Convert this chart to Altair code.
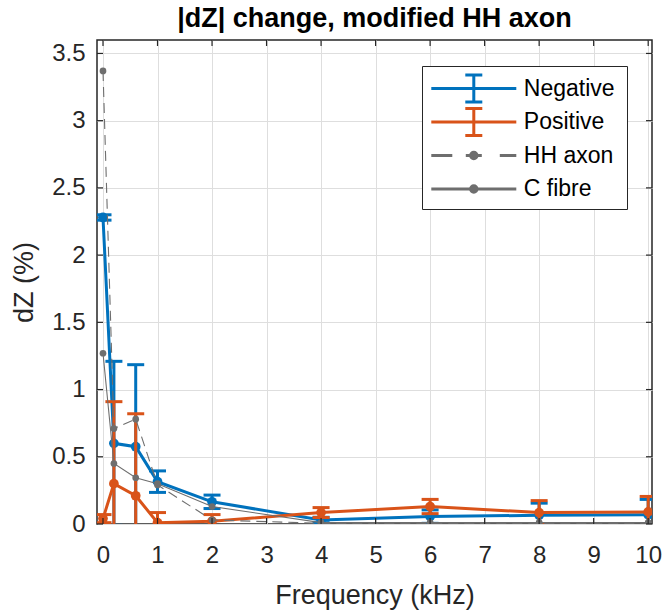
import altair as alt
import pandas as pd

# ---- data ----
freq = [0, 0.2, 0.6, 1, 2, 4, 6, 8, 10]
neg = [2.28, 0.60, 0.575, 0.315, 0.165, 0.03, 0.055, 0.065, 0.068]
neg_err = [0.02, 0.61, 0.61, 0.08, 0.05, 0.02, 0.05, 0.09, 0.115]
pos = [0.04, 0.30, 0.21, 0.01, 0.02, 0.085, 0.13, 0.085, 0.09]
pos_err = [0.03, 0.61, 0.61, 0.075, 0.05, 0.037, 0.053, 0.089, 0.115]
hh_axon = [3.37, 0.71, 0.78, 0.29, 0.03, 0.005, 0.005, 0.005, 0.005]
c_fibre = [1.27, 0.45, 0.344, 0.30, 0.13, 0.01, 0.01, 0.01, 0.01]

series = ["Negative", "Positive", "HH axon", "C fibre"]
x_ticks = list(range(0, 11))
y_ticks = [0, 0.5, 1, 1.5, 2, 2.5, 3, 3.5]

BLUE = "#0072BD"
ORANGE = "#D95319"
GRAY = "#6E6E6E"
AX = "#262626"
FONT = "Liberation Sans"

W, H = 555, 484

df = pd.DataFrame({"freq": freq, "neg": neg, "neg_err": neg_err,
                   "pos": pos, "pos_err": pos_err,
                   "hh": hh_axon, "cf": c_fibre})

xs = alt.Scale(domain=[-0.11, 10.07], nice=False, zero=False)
ys = alt.Scale(domain=[0, 3.6], nice=False, zero=True)

xaxis = alt.Axis(values=x_ticks, title="Frequency (kHz)", format="d")
yaxis = alt.Axis(values=y_ticks, title="dZ (%)", format="~g")


def X(field):
    return alt.X(field, scale=xs, axis=xaxis)


def Y(field):
    return alt.Y(field, scale=ys, axis=yaxis)


base = alt.Chart(df)


def err_series(col, ecol, color):
    b = base.transform_calculate(
        lo=f"datum.{col} - datum.{ecol}", hi=f"datum.{col} + datum.{ecol}")
    line = b.mark_line(color=color, strokeWidth=3, clip=True).encode(
        x=X("freq:Q"), y=Y(f"{col}:Q"))
    pts = b.mark_circle(color=color, size=95, opacity=1, clip=True).encode(
        x=X("freq:Q"), y=Y(f"{col}:Q"))
    bar = b.mark_rule(color=color, strokeWidth=3, clip=True).encode(
        x=X("freq:Q"), y=Y("lo:Q"), y2="hi:Q")
    cap_hi = b.mark_tick(color=color, orient="horizontal", size=17,
                         thickness=3, clip=True, opacity=1).encode(
        x=X("freq:Q"), y=Y("hi:Q"))
    cap_lo = b.mark_tick(color=color, orient="horizontal", size=17,
                         thickness=3, clip=True, opacity=1).encode(
        x=X("freq:Q"), y=Y("lo:Q"))
    return [line, bar, cap_hi, cap_lo, pts]


def gray_series(col, dash):
    kw = dict(color=GRAY, strokeWidth=1.1, clip=True)
    if dash:
        kw["strokeDash"] = [10, 6]
    line = base.mark_line(**kw).encode(x=X("freq:Q"), y=Y(f"{col}:Q"))
    pts = base.mark_circle(color=GRAY, size=45, opacity=1, clip=True).encode(
        x=X("freq:Q"), y=Y(f"{col}:Q"))
    return [line, pts]


# legend (custom symbols, drawn through a legend-only layer)
# the leading move-to commands only widen/heighten the symbol bounds so the
# legend frame matches the reference box
pad = "M0,-2.7M0,2.7M29.3,0"
eb_path = pad + "M-8.5,0H8.5M0,-2.7V2.7M-1.7,-2.7H1.7M-1.7,2.7H1.7"
dot = "M-0.65,0A0.65,0.65,0,1,0,0.65,0A0.65,0.65,0,1,0,-0.65,0Z"
hh_path = pad + "M-8.5,0H-4.3M-1.6,0H1.6M5.2,0H8.5" + dot
cf_path = pad + "M-8.5,0H8.5" + dot

leg_df = pd.DataFrame({"series": series, "x": [-50] * 4, "y": [-50] * 4})
legend = alt.Legend(title=" ", titleFontSize=6, titlePadding=5,
                    orient="none", legendX=325, legendY=26,
                    labelFontSize=23, labelFont=FONT, labelColor="#000000",
                    padding=0, rowPadding=-5.5, symbolOffset=40.3,
                    labelOffset=38.5, strokeColor=AX, fillColor="white",
                    symbolSize=100, labelLimit=300)
leg_layer = alt.Chart(leg_df).mark_point(filled=True, size=100, opacity=1,
                                         clip=True).encode(
    x=X("x:Q"), y=Y("y:Q"),
    fill=alt.Fill("series:N", scale=alt.Scale(domain=series,
                  range=[BLUE, ORANGE, GRAY, GRAY]), legend=legend),
    stroke=alt.Stroke("series:N", scale=alt.Scale(domain=series,
                      range=[BLUE, ORANGE, GRAY, GRAY]), legend=legend),
    shape=alt.Shape("series:N", scale=alt.Scale(domain=series,
                    range=[eb_path, eb_path, hh_path, cf_path]), legend=legend),
    strokeWidth=alt.StrokeWidth("series:N", scale=alt.Scale(domain=series,
                                range=[3, 3, 1.2, 1.2]), legend=legend),
)

# inward MATLAB-style ticks
xt = pd.DataFrame({"freq": x_ticks})
yt = pd.DataFrame({"val": y_ticks})
tick_kw = dict(color=AX, strokeWidth=1.2)
tb = alt.Chart(xt).mark_rule(**tick_kw).encode(
    x=X("freq:Q"), y=alt.value(H), y2=alt.value(H - 6))
tt = alt.Chart(xt).mark_rule(**tick_kw).encode(
    x=X("freq:Q"), y=alt.value(0), y2=alt.value(6))
tl = alt.Chart(yt).mark_rule(**tick_kw).encode(
    y=Y("val:Q"), x=alt.value(0), x2=alt.value(6))
tr = alt.Chart(yt).mark_rule(**tick_kw).encode(
    y=Y("val:Q"), x=alt.value(W), x2=alt.value(W - 6))

layers = (err_series("neg", "neg_err", BLUE) + err_series("pos", "pos_err", ORANGE)
          + gray_series("hh", True) + gray_series("cf", False)
          + [leg_layer, tb, tt, tl, tr])

chart = alt.layer(*layers).properties(
    width=W, height=H,
    autosize=alt.AutoSizeParams(type="none"),
    padding={"left": 97, "top": 40, "right": 10, "bottom": 86},
    title=alt.Title("|dZ| change, modified HH axon", font=FONT, fontSize=27,
                    fontWeight="bold", color="#000000", offset=6,
                    anchor="middle"),
).configure_view(stroke=AX, strokeWidth=1.5).configure_axis(
    domain=False, ticks=False, grid=True, gridColor="#dedede", gridWidth=1,
    labelFont=FONT, labelFontSize=24, labelColor=AX,
    titleFont=FONT, titleFontSize=27, titleFontWeight="normal", titleColor=AX,
).configure_axisX(labelPadding=19, titlePadding=15).configure_axisY(
    labelPadding=12, titlePadding=13)

chart.save("out.html", embed_options={"renderer": "svg", "actions": False})
